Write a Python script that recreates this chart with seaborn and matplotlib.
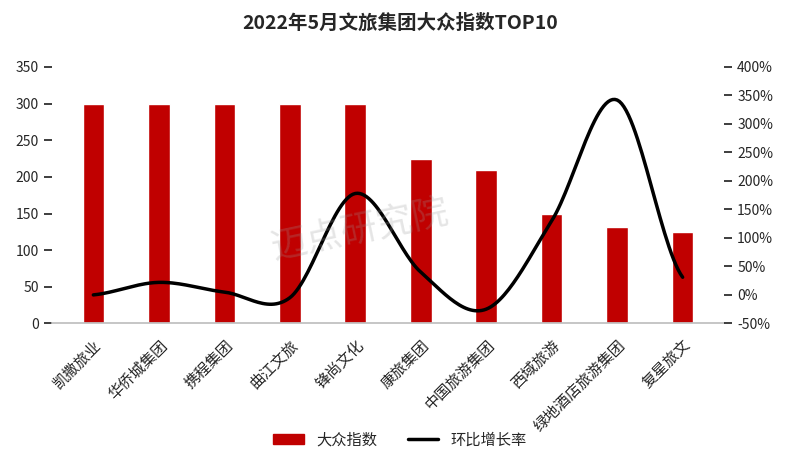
import numpy as np
import matplotlib
matplotlib.use("Agg")
import matplotlib.pyplot as plt
import seaborn as sns
import pandas as pd

categories = ["凯撒旅业", "华侨城集团", "携程集团", "曲江文旅", "锋尚文化",
              "康旅集团", "中国旅游集团", "西域旅游", "绿地酒店旅游集团", "复星旅文"]
index_values = [300, 300, 300, 300, 300, 225, 210, 150, 132, 125]
growth_pct = [0, 22, 5, -5, 178, 40, -25, 130, 342, 31]

sns.set_theme(style="white")
plt.rcParams['font.family'] = ['Noto Sans CJK SC', 'DejaVu Sans']

fig, ax = plt.subplots(figsize=(8, 4.62), dpi=100)
df = pd.DataFrame({"cat": categories, "v": index_values})
sns.barplot(data=df, x="cat", y="v", color="#C00000", width=0.33, ax=ax, saturation=1)
ax.set_ylim(0, 350)
ax.set_yticks(range(0, 351, 50))
ax.set_xlabel(""); ax.set_ylabel("")
ax.tick_params(axis='x', rotation=45, labelsize=11)
for t in ax.get_xticklabels():
    t.set_ha('right'); t.set_rotation_mode('anchor')
ax.tick_params(axis='y', labelsize=10)
for s in ["top", "right"]:
    ax.spines[s].set_visible(False)
ax.spines["left"].set_visible(False)
ax.spines["bottom"].set_color("#bfbfbf")

# smooth curve (Catmull-Rom)
x = np.arange(len(growth_pct), dtype=float)
y = np.array(growth_pct, dtype=float)
px = np.concatenate([[x[0]-1], x, [x[-1]+1]])
py = np.concatenate([[y[0]], y, [y[-1]]])
xs, ys = [], []
for i in range(1, len(px)-2):
    t = np.linspace(0, 1, 30)
    for arr, out in ((px, xs), (py, ys)):
        p0, p1, p2, p3 = arr[i-1], arr[i], arr[i+1], arr[i+2]
        out.extend(0.5*((2*p1) + (-p0+p2)*t + (2*p0-5*p1+4*p2-p3)*t**2 + (-p0+3*p1-3*p2+p3)*t**3))
ax2 = ax.twinx()
ax2.plot(xs, ys, color="black", lw=2.5)
ax2.set_ylim(-50, 400)
ax2.set_yticks(range(-50, 401, 50))
ax2.set_yticklabels([f"{v}%" for v in range(-50, 401, 50)], fontsize=10)
for s in ["top", "right", "left", "bottom"]:
    ax2.spines[s].set_visible(False)
ax2.grid(False)

fig.text(0.45, 0.5, "迈点研究院", fontsize=26, color="#999999", alpha=0.25, rotation=12,
         ha="center", va="center")
fig.suptitle("2022年5月文旅集团大众指数TOP10", fontsize=14, fontweight="bold", y=0.97)

from matplotlib.patches import Patch
from matplotlib.lines import Line2D
handles = [Patch(color="#C00000", label="大众指数"), Line2D([], [], color="black", lw=2.5, label="环比增长率")]
fig.legend(handles=handles, loc="lower center", ncol=2, frameon=False, fontsize=11,
           bbox_to_anchor=(0.5, 0.0))
fig.subplots_adjust(left=0.065, right=0.905, top=0.855, bottom=0.3)
fig.savefig("out.png", dpi=100)
